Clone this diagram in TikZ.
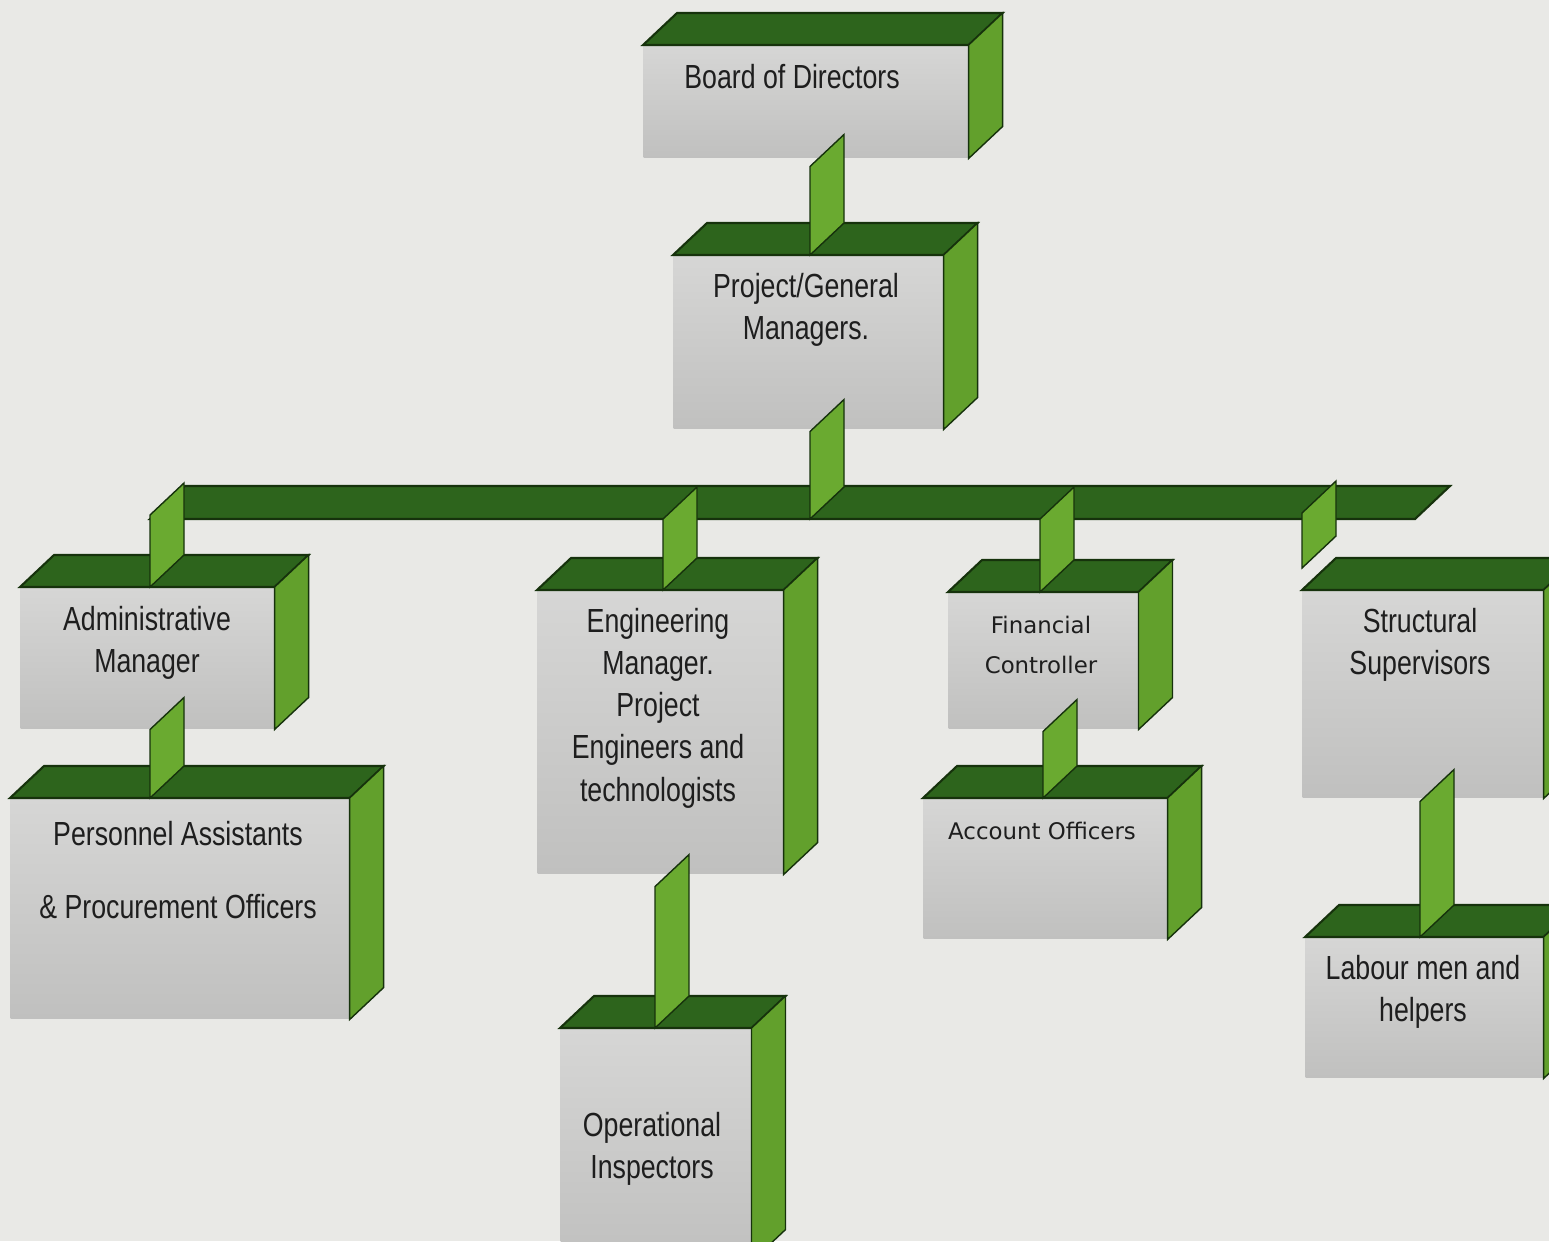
\documentclass[tikz,border=0pt]{standalone}
\usepackage{fontspec}
\setmainfont{Liberation Sans}[FakeStretch=0.8]
\newfontfamily\dejavu{DejaVu Sans}
\usetikzlibrary{calc}

\definecolor{bggray}{RGB}{233,233,230}
\definecolor{facelight}{RGB}{214,214,213}
\definecolor{facedark}{RGB}{192,192,191}
\definecolor{topgreen}{RGB}{45,100,28}
\definecolor{sidegreen}{RGB}{98,160,44}
\definecolor{stemgreen}{RGB}{106,170,48}
\definecolor{edgegreen}{RGB}{22,50,12}
\definecolor{inkgray}{RGB}{30,30,30}

\tikzset{
  front/.style={anchor=north west, inner sep=0pt, top color=facelight, bottom color=facedark},
  topface/.style={fill=topgreen, draw=edgegreen, line width=0.6pt},
  sideface/.style={fill=sidegreen, draw=edgegreen, line width=0.4pt},
  stemface/.style={fill=stemgreen, draw=edgegreen, line width=0.4pt},
  txt/.style={align=center, inner sep=0pt, text=inkgray, font=\fontsize{9.5}{12}\selectfont},
  txtb/.style={txt, font=\dejavu\fontsize{6.5}{11.4}\selectfont}
}

% top and right faces of a box
\newcommand{\sidefaces}[1]{%
  \filldraw[topface] (#1.north west) -- ++(34,-32) -- ($(#1.north east)+(34,-32)$) -- (#1.north east) -- cycle;
  \filldraw[sideface] (#1.north east) -- ++(34,-32) -- ($(#1.south east)+(34,-32)$) -- (#1.south east) -- cycle;}

% flat connector: x, upper end, lower end, gap below upper end
\newcommand{\stem}[4]{%
  \coordinate (st) at (#1,0);
  \filldraw[stemface] ($(st |- #2)+(0,#4)$) -- (st |- #3) -- ++(34,-32) -- ($(st |- #2)+(34,#4-32)$) -- cycle;}

\begin{document}
\begin{tikzpicture}[x=0.01cm, y=-0.01cm]
\useasboundingbox (0,0) rectangle (1549,1241);
\clip (0,0) rectangle (1549,1241);
\fill[bggray] (0,0) rectangle (1549,1241);

% boxes
\node[front, minimum width=3.24cm, minimum height=1.12cm] (bod) at (643,45) {};
\sidefaces{bod}
\node[front, minimum width=2.69cm, minimum height=1.73cm] (pgm) at (673,255) {};
\sidefaces{pgm}
\node[front, minimum width=2.53cm, minimum height=1.41cm] (adm) at (20,587) {};
\sidefaces{adm}
\node[front, minimum width=3.38cm, minimum height=2.20cm] (pers) at (10,798) {};
\sidefaces{pers}
\node[front, minimum width=2.45cm, minimum height=2.83cm] (eng) at (537,590) {};
\sidefaces{eng}
\node[front, minimum width=1.90cm, minimum height=2.32cm] (ops) at (560,1028) {};
\sidefaces{ops}
\node[front, minimum width=1.89cm, minimum height=1.36cm] (fin) at (948,592) {};
\sidefaces{fin}
\node[front, minimum width=2.43cm, minimum height=1.40cm] (acc) at (923,798) {};
\sidefaces{acc}
\node[front, minimum width=2.40cm, minimum height=2.07cm] (sup) at (1302,590) {};
\sidefaces{sup}
\node[front, minimum width=2.37cm, minimum height=1.40cm] (lab) at (1305,937) {};
\sidefaces{lab}

% bar
\coordinate (barL) at (150,519);
\coordinate (barR) at (1415,519);
\filldraw[topface] (barL) -- (barR) -- ++(35,-33) -- ($(barL)+(35,-33)$) -- cycle;

% connectors
\coordinate (supstem) at ($(sup.north west)+(0,-22)$);
\stem{810}{bod.south}{pgm.north}{8}
\stem{810}{pgm.south}{barL}{2}
\stem{150}{barL}{adm.north}{-4}
\stem{663}{barL}{eng.north}{0}
\stem{1040}{barL}{fin.north}{0}
\stem{1302}{barL}{supstem}{-6}
\stem{150}{adm.south}{pers.north}{0}
\stem{655}{eng.south}{ops.north}{12}
\stem{1043}{fin.south}{acc.north}{2}
\stem{1420}{sup.south}{lab.north}{3}

% labels
\node[txt] (bodtxt) at (792,77) {Board of Directors};
\node[txt] (pgmtxt) at (806,310) {Project/General\\Managers.};
\node[txt] (admtxt) at (147,643) {Administrative\\Manager};
\node[txt] (perstxt) at (178,870) {Personnel Assistants\\[9pt]\& Procurement Officers};
\node[txt] (engtxt) at (658,708) {Engineering\\Manager.\\Project\\Engineers and\\technologists};
\node[txt] (opstxt) at (652,1149) {Operational\\Inspectors};
\node[txtb] (fintxt) at (1041,645) {Financial\\Controller};
\node[txtb] (acctxt) at (1042,831) {Account Officers};
\node[txt] (suptxt) at (1420,645) {Structural\\Supervisors};
\node[txt] (labtxt) at (1423,992) {Labour men and\\helpers};
\end{tikzpicture}
\end{document}
